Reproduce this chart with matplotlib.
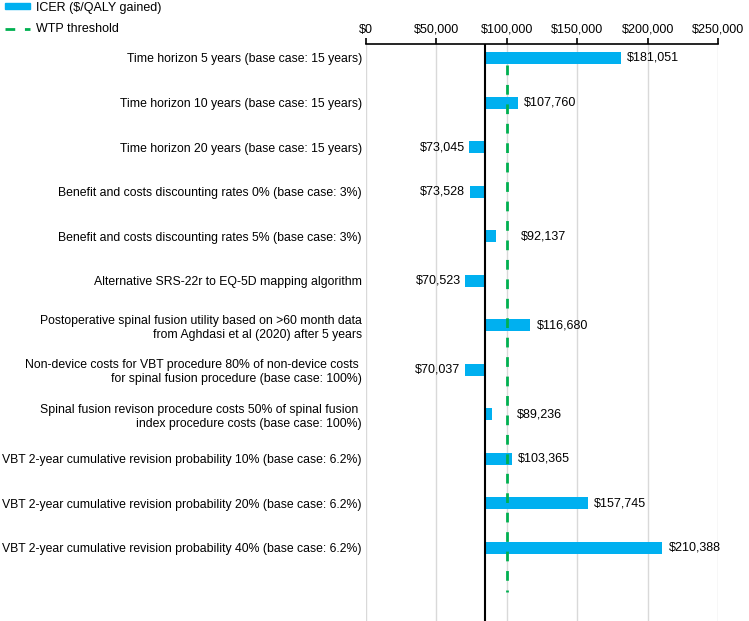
import matplotlib.pyplot as plt
from matplotlib.ticker import FuncFormatter
from matplotlib.lines import Line2D
from matplotlib.patches import Patch

plt.rcParams['font.family'] = ['Liberation Sans', 'DejaVu Sans']

scenarios = [
    "Time horizon 5 years (base case: 15 years)",
    "Time horizon 10 years (base case: 15 years)",
    "Time horizon 20 years (base case: 15 years)",
    "Benefit and costs discounting rates 0% (base case: 3%)",
    "Benefit and costs discounting rates 5% (base case: 3%)",
    "Alternative SRS-22r to EQ-5D mapping algorithm",
    "Postoperative spinal fusion utility based on >60 month data\nfrom Aghdasi et al (2020) after 5 years",
    "Non-device costs for VBT procedure 80% of non-device costs \nfor spinal fusion procedure (base case: 100%)",
    "Spinal fusion revison procedure costs 50% of spinal fusion \nindex procedure costs (base case: 100%)",
    "VBT 2-year cumulative revision probability 10% (base case: 6.2%)",
    "VBT 2-year cumulative revision probability 20% (base case: 6.2%)",
    "VBT 2-year cumulative revision probability 40% (base case: 6.2%)",
]
icer = [181051, 107760, 73045, 73528, 92137, 70523, 116680, 70037, 89236, 103365, 157745, 210388]
base_icer = 84500
wtp = 100000
x_ticks = [0, 50000, 100000, 150000, 200000, 250000]

bar_color = '#00B0F0'
wtp_color = '#00B050'

fig = plt.figure(figsize=(7.49, 6.21), dpi=100)
ax = fig.add_axes([366 / 749, 0, 352 / 749, 577 / 621])

ypos = list(range(len(icer)))
widths = [v - base_icer for v in icer]
ax.barh(ypos, widths, left=base_icer, height=0.27, color=bar_color, zorder=3)

for y, v in zip(ypos, icer):
    lbl = "${:,}".format(v)
    if v < base_icer:
        ax.annotate(lbl, (v, y), xytext=(-3, 0), textcoords='offset points',
                    ha='right', va='center', fontsize=9)
    else:
        pad = 18 if v < wtp else 4.5
        ax.annotate(lbl, (v, y), xytext=(pad, 0), textcoords='offset points',
                    ha='left', va='center', fontsize=9)

ax.axvline(base_icer, color='black', lw=1.5, zorder=4)
ax.plot([wtp, wtp], [0.15, 12.0], color=wtp_color, ls=(0, (3.5, 3.5)), lw=2, zorder=5)

ax.set_xlim(0, 250000)
ax.set_ylim(12.64, -0.314)
ax.set_xticks(x_ticks)
ax.xaxis.set_major_formatter(FuncFormatter(lambda v, p: "${:,.0f}".format(v)))
ax.xaxis.tick_top()
ax.tick_params(axis='x', length=4, width=1.2, labelsize=9, pad=2)
ax.set_yticks(ypos)
ax.set_yticklabels(scenarios, fontsize=8.8)
ax.tick_params(axis='y', length=0, pad=3)
ax.grid(axis='x', color='#d9d9d9', lw=1, zorder=0)
for s in ['left', 'right', 'bottom']:
    ax.spines[s].set_visible(False)
ax.spines['top'].set_linewidth(1.2)

handles = [Patch(color=bar_color, label='ICER ($/QALY gained)'),
           Line2D([], [], color=wtp_color, ls=(0, (3.5, 3.5)), lw=2, label='WTP threshold')]
fig.legend(handles=handles, loc='upper left', bbox_to_anchor=(-0.004, 1.009), frameon=False,
           fontsize=9, handlelength=2.0, handleheight=0.35, handletextpad=0.55,
           labelspacing=0.75, borderaxespad=0.2)

fig.savefig('out.png', dpi=100)
